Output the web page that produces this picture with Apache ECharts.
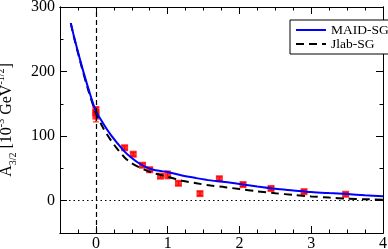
<!DOCTYPE html>
<html>
<head>
<meta charset="utf-8">
<script src="https://cdn.jsdelivr.net/npm/echarts@6/dist/echarts.min.js"></script>
<style>html,body{margin:0;padding:0;background:#fff;}#c{width:388px;height:249px;}</style>
</head>
<body>
<div id="c"></div>
<script>
var curveX = [-0.35,-0.3,-0.2,-0.1,0,0.1,0.2,0.3,0.4,0.5,0.6,0.7,0.8,0.9,1.0,1.2,1.4,1.6,1.8,2.0,2.25,2.5,2.75,3.0,3.25,3.5,3.75,4.0];
var maidY = [275,252,210,172,139,120,103,89,76,66,58,52,48,46,44.5,39,35,31.5,29,26,22,18.5,16,13.5,11.8,10.3,8.5,6.8];
var jlabY = [275,251,208,169,136,113,95,80,67,58,52,47,43,40,37,31,27,23.5,21,18,14.5,11.5,9,6.7,4.8,3.3,2.3,1.5];
var ptX = [0,0,0,0.40,0.52,0.65,0.75,0.90,1.00,1.15,1.45,1.72,2.05,2.44,2.90,3.48];
var ptY = [141,136,131,82,72,55,48,38,40,27,11,34,25,19,14,10];
var ptErr = [4,4,9,3,3,3,3,3,6,3,3,3,3,3,3,3];
var xMajor = [0,1,2,3,4];
var xMinor = [-0.25,0.25,0.5,0.75,1.25,1.5,1.75,2.25,2.5,2.75,3.25,3.5,3.75];
var yMajor = [0,100,200,300];
var yMinor = [-50,50,150,250];

var font = 'Liberation Serif';
function zip(a,b){return a.map(function(v,i){return [v,b[i]];});}

function xAx(pos, ticks, len, labels){
  return {type:'value', min:-0.5, max:4, position:pos,
    axisLine:{show:true, onZero:false, lineStyle:{color:'#000', width:1}},
    axisTick:{show:true, inside:true, length:len, customValues:ticks, lineStyle:{color:'#000', width:1}},
    axisLabel:{show:labels, customValues:labels?ticks:undefined, color:'#000', fontFamily:font, fontSize:16, margin:3},
    splitLine:{show:false}};
}
function yAx(pos, ticks, len, labels, name){
  var o = {type:'value', min:-50, max:300, position:pos,
    axisLine:{show:true, onZero:false, lineStyle:{color:'#000', width:1}},
    axisTick:{show:true, inside:true, length:len, customValues:ticks, lineStyle:{color:'#000', width:1}},
    axisLabel:{show:labels, customValues:labels?ticks:undefined, color:'#000', fontFamily:font, fontSize:16, margin:5},
    splitLine:{show:false}};
  if(name){
    o.name = '{n|A}{sub|3/2}{n| [10}{sup|-3}{n| GeV}{sup|-1/2}{n|]}';
    o.nameLocation = 'middle';
    o.nameRotate = 90;
    o.nameGap = 42;
    o.nameTextStyle = {color:'#000', fontFamily:font, fontSize:16,
      rich:{
        n:{fontFamily:font, fontSize:16, color:'#000', lineHeight:22, verticalAlign:'middle'},
        sub:{fontFamily:font, fontSize:10, color:'#000', lineHeight:22, verticalAlign:'bottom'},
        sup:{fontFamily:font, fontSize:10, color:'#000', lineHeight:22, verticalAlign:'top'}
      }};
  }
  return o;
}

var chart = echarts.init(document.getElementById('c'), null, {renderer:'canvas'});
chart.setOption({
  animation:false,
  backgroundColor:'#fff',
  grid:{left:60, right:5, top:7, bottom:16, containLabel:false, outerBoundsMode:'none'},
  xAxis:[xAx('bottom', xMajor, 7, true), xAx('bottom', xMinor, 3.5, false), xAx('top', xMajor, 7, false), xAx('top', xMinor, 3.5, false)],
  yAxis:[yAx('left', yMajor, 7, true, true), yAx('left', yMinor, 3.5, false), yAx('right', yMajor, 7, false), yAx('right', yMinor, 3.5, false)],
  legend:{
    data:['MAID-SG','Jlab-SG'],
    left:290, top:20, orient:'vertical',
    backgroundColor:'#fff', borderColor:'#000', borderWidth:1, borderRadius:0,
    padding:[3,2,3,5], itemGap:0, itemWidth:30, itemHeight:15,
    itemStyle:{opacity:0},
    textStyle:{fontFamily:font, fontSize:13.5, color:'#000', padding:[0,0,0,0]}
  },
  series:[
    {type:'custom', name:'err', z:1, silent:true,
      data: ptX.map(function(x,i){return [x, ptY[i], ptErr[i]];}),
      renderItem:function(params, api){
        var x=api.value(0), y=api.value(1), e=api.value(2);
        var p1=api.coord([x,y+e]), p2=api.coord([x,y-e]);
        var st={stroke:'#ff0000', lineWidth:1};
        return {type:'group', children:[
          {type:'line', shape:{x1:p1[0],y1:p1[1],x2:p2[0],y2:p2[1]}, style:st},
          {type:'line', shape:{x1:p1[0]-3,y1:p1[1],x2:p1[0]+3,y2:p1[1]}, style:st},
          {type:'line', shape:{x1:p2[0]-3,y1:p2[1],x2:p2[0]+3,y2:p2[1]}, style:st}
        ]};
      }},
    {type:'scatter', name:'data', z:2, symbol:'rect', symbolSize:7,
      itemStyle:{color:'#ff0000'}, data:zip(ptX, ptY),
      markLine:{silent:true, symbol:'none', label:{show:false},
        data:[
          {xAxis:0, lineStyle:{color:'#000', width:1.2, type:[5,3]}},
          {yAxis:0, lineStyle:{color:'#000', width:1.2, type:[1.5,3]}}
        ]}},
    {type:'line', name:'Jlab-SG', z:3, symbol:'none', smooth:0.3,
      lineStyle:{color:'#000', width:2, type:[8,5]}, itemStyle:{color:'#000'}, data:zip(curveX, jlabY)},
    {type:'line', name:'MAID-SG', z:4, symbol:'none', smooth:0.3,
      lineStyle:{color:'#0000ff', width:2}, itemStyle:{color:'#0000ff'}, data:zip(curveX, maidY)}
  ]
});
</script>
</body>
</html>
